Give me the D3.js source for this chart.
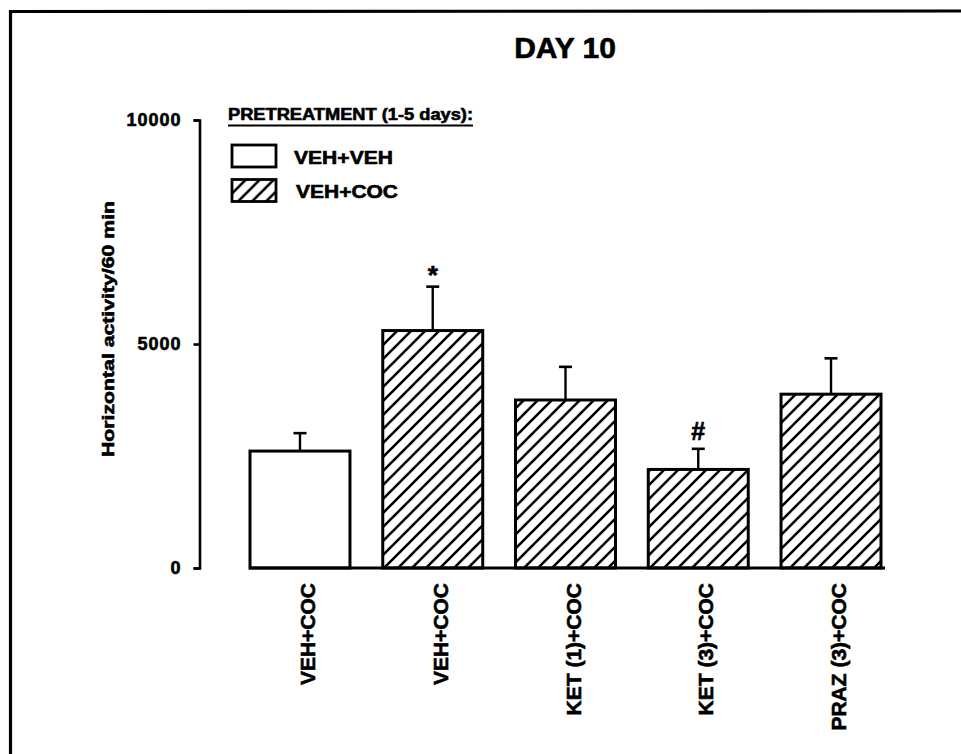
<!DOCTYPE html>
<html>
<head>
<meta charset="utf-8">
<script src="https://cdn.jsdelivr.net/npm/d3@7"></script>
<style>
  html, body { margin: 0; padding: 0; background: #fff; }
  svg { display: block; }
  text { font-family: "Liberation Sans", Arial, Helvetica, sans-serif; font-weight: bold; fill: #000; stroke: #000; stroke-width: 0.6px; }
</style>
</head>
<body>
<svg id="chart" width="961" height="754"></svg>
<script>
// ---- data ----
const categories = ["VEH+COC", "VEH+COC", "KET (1)+COC", "KET (3)+COC", "PRAZ (3)+COC"];
const pretreatment = ["VEH+VEH", "VEH+COC", "VEH+COC", "VEH+COC", "VEH+COC"];
const means = [2610, 5300, 3750, 2200, 3880];
const sems = [400, 980, 740, 460, 800];
const marks = ["", "*", "", "#", ""];
const yTicks = [0, 5000, 10000];
const legendLabels = ["VEH+VEH", "VEH+COC"];
const title = "DAY 10";
const yTitle = "Horizontal activity/60 min";
const legendTitle = "PRETREATMENT (1-5 days):";

// ---- setup ----
const svg = d3.select("#chart");
svg.append("rect").attr("width", 961).attr("height", 754).attr("fill", "#fff");

const defs = svg.append("defs");
const pat = defs.append("pattern")
  .attr("id", "hatch").attr("patternUnits", "userSpaceOnUse")
  .attr("width", 14).attr("height", 14);
pat.append("rect").attr("width", 14).attr("height", 14).attr("fill", "#fff");
pat.append("path")
  .attr("d", "M-2,2 L2,-2 M0,14 L14,0 M12,16 L16,12")
  .attr("stroke", "#000").attr("stroke-width", 2.6);

// page frame (scan crop)
svg.append("path")
  .attr("d", "M10.5,760 L10.5,11.5 L965,11")
  .attr("fill", "none").attr("stroke", "#000").attr("stroke-width", 3.2);

const idx = d3.range(categories.length);
const x = d3.scaleBand().domain(idx).range([250, 881]).paddingInner(0.247).paddingOuter(0);
const y = d3.scaleLinear().domain([0, 10000]).range([568, 120]);
const fillFor = p => p === legendLabels[0] ? "#fff" : "url(#hatch)";

// title
svg.append("text").attr("x", 565).attr("y", 58).attr("text-anchor", "middle")
  .attr("font-size", 30).text(title);

// y axis
const yAxis = d3.axisLeft(y).tickValues(yTicks).tickSize(6).tickSizeOuter(6).tickPadding(12)
  .tickFormat(d3.format("d"));
const gy = svg.append("g").attr("transform", "translate(199.5,0)").call(yAxis);
gy.select(".domain").attr("stroke", "#000").attr("stroke-width", 2.6);
gy.selectAll(".tick line").attr("stroke", "#000").attr("stroke-width", 2.6);
gy.selectAll(".tick text")
  .style("font-family", '"Liberation Sans", Arial, sans-serif')
  .style("font-weight", "bold").attr("font-size", 18).attr("letter-spacing", 1)
  .attr("fill", "#000").attr("stroke", "#000").attr("stroke-width", 0.6);

// y title
svg.append("text").attr("transform", "translate(114,329) rotate(-90)")
  .attr("text-anchor", "middle").attr("font-size", 17)
  .attr("textLength", 256).attr("lengthAdjust", "spacingAndGlyphs")
  .text(yTitle);

// bars
svg.append("g").selectAll("rect").data(idx).join("rect")
  .attr("x", i => x(i)).attr("width", x.bandwidth())
  .attr("y", i => y(means[i])).attr("height", i => y(0) - y(means[i]))
  .attr("fill", i => fillFor(pretreatment[i]))
  .attr("stroke", "#000").attr("stroke-width", 3);

// x baseline
svg.append("line")
  .attr("x1", x.range()[0] - 1).attr("x2", x.range()[1] + 4)
  .attr("y1", y(0)).attr("y2", y(0))
  .attr("stroke", "#000").attr("stroke-width", 3);

// error bars (upper)
const eb = svg.append("g");
eb.selectAll("line.v").data(idx).join("line").attr("class", "v")
  .attr("x1", i => x(i) + x.bandwidth() / 2).attr("x2", i => x(i) + x.bandwidth() / 2)
  .attr("y1", i => y(means[i])).attr("y2", i => y(means[i] + sems[i]))
  .attr("stroke", "#000").attr("stroke-width", 2.4);
eb.selectAll("line.c").data(idx).join("line").attr("class", "c")
  .attr("x1", i => x(i) + x.bandwidth() / 2 - 6.5).attr("x2", i => x(i) + x.bandwidth() / 2 + 6.5)
  .attr("y1", i => y(means[i] + sems[i])).attr("y2", i => y(means[i] + sems[i]))
  .attr("stroke", "#000").attr("stroke-width", 2.6);

// significance marks
const markStyle = { "*": { size: 26, gap: 3 }, "#": { size: 25, gap: 9 } };
svg.append("g").selectAll("text").data(idx.filter(i => marks[i])).join("text")
  .attr("x", i => x(i) + x.bandwidth() / 2)
  .attr("y", i => y(means[i] + sems[i]) - markStyle[marks[i]].gap)
  .attr("text-anchor", "middle")
  .attr("font-size", i => markStyle[marks[i]].size)
  .attr("stroke-width", 1)
  .text(i => marks[i]);

// category labels (rotated)
svg.append("g").selectAll("text").data(idx).join("text")
  .attr("transform", i => `translate(${x(i) + x.bandwidth() / 2 + 15},583) rotate(-90)`)
  .attr("text-anchor", "end").attr("font-size", 21)
  .text(i => categories[i]);

// legend
const lg = svg.append("g");
lg.append("text").attr("x", 228).attr("y", 120).attr("font-size", 16)
  .attr("textLength", 245).attr("lengthAdjust", "spacingAndGlyphs")
  .text(legendTitle);
lg.append("line").attr("x1", 228).attr("x2", 473).attr("y1", 125.5).attr("y2", 125.5)
  .attr("stroke", "#000").attr("stroke-width", 2);
const legendRows = lg.selectAll("g.row").data(legendLabels).join("g").attr("class", "row")
  .attr("transform", (d, i) => `translate(232,${145 + i * 34.5})`);
legendRows.append("rect").attr("width", 44).attr("height", 22)
  .attr("fill", d => fillFor(d)).attr("stroke", "#000").attr("stroke-width", 2.8);
legendRows.append("text").attr("x", (d, i) => 62 + i * 2).attr("y", 18.5)
  .attr("font-size", 18)
  .attr("textLength", (d, i) => 99 + i * 3).attr("lengthAdjust", "spacingAndGlyphs")
  .text(d => d);
</script>
</body>
</html>
